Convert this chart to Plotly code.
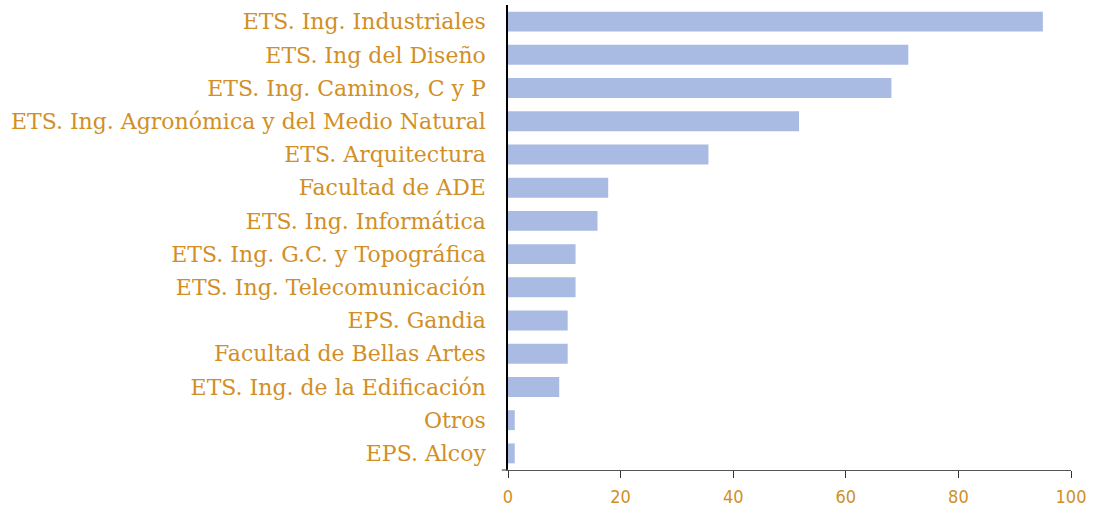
import plotly.graph_objects as go

categories = [
    "ETS. Ing. Industriales",
    "ETS. Ing del Diseño",
    "ETS. Ing. Caminos, C y P",
    "ETS. Ing. Agronómica y del Medio Natural",
    "ETS. Arquitectura",
    "Facultad de ADE",
    "ETS. Ing. Informática",
    "ETS. Ing. G.C. y Topográfica",
    "ETS. Ing. Telecomunicación",
    "EPS. Gandia",
    "Facultad de Bellas Artes",
    "ETS. Ing. de la Edificación",
    "Otros",
    "EPS. Alcoy",
]
values = [95.0, 71.1, 68.1, 51.7, 35.6, 17.8, 15.9, 12.0, 12.0, 10.6, 10.6, 9.1, 1.2, 1.2]
x_ticks = [0, 20, 40, 60, 80, 100]

GOLD = "#D18F26"
BAR = "#A9BBE2"

fig = go.Figure(go.Bar(
    x=values, y=categories, orientation="h",
    marker=dict(color=BAR, line=dict(width=0)),
    width=0.6,
))

fig.update_layout(
    width=1101, height=511,
    margin=dict(l=508, r=30, t=5, b=41),
    paper_bgcolor="white", plot_bgcolor="white",
    showlegend=False,
    font=dict(family="DejaVu Serif", color=GOLD),
)
fig.update_yaxes(
    autorange=False, range=[13.5, -0.5], automargin=False,
    categoryorder="array", categoryarray=categories,
    showline=True, linecolor="black", linewidth=1.5,
    showgrid=False, ticks="", ticklabelstandoff=16,
    tickfont=dict(family="DejaVu Serif", size=22, color=GOLD),
)
fig.update_xaxes(
    range=[0, 100], tickvals=x_ticks, automargin=False,
    showline=True, linecolor="#555555", linewidth=1.2,
    showgrid=False, zeroline=False,
    ticks="outside", ticklen=7, tickcolor="#333333", tickwidth=1.2,
    ticklabelstandoff=3,
    tickfont=dict(family="DejaVu Sans Condensed", size=18, color=GOLD),
)
fig.add_shape(type="line", xref="paper", yref="paper", x0=-0.011, x1=0, y0=0, y1=0,
              line=dict(color="#555555", width=1.2))

fig.write_html("out.html", config={"displayModeBar": False},
               post_script="document.body.style.margin='0';")
